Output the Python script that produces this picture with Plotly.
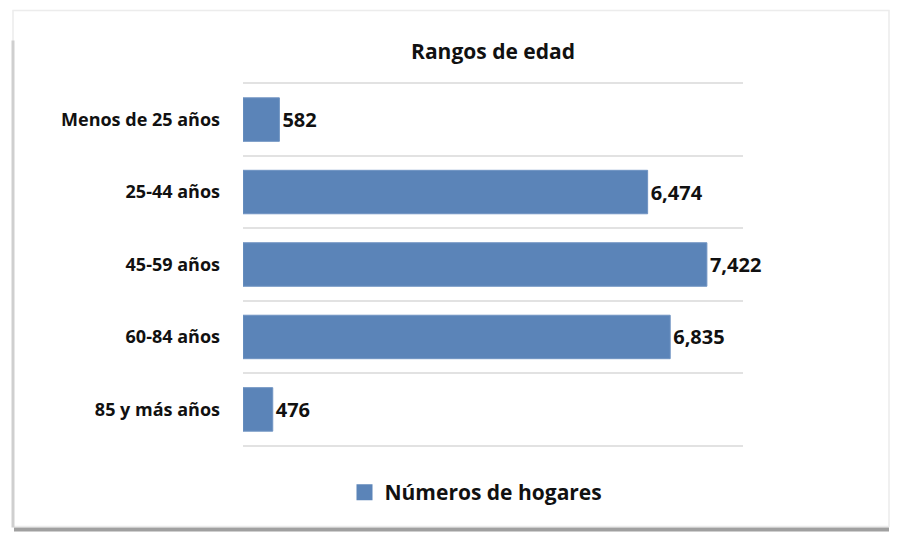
import plotly.graph_objects as go

categorias = ["Menos de 25 años", "25-44 años", "45-59 años", "60-84 años", "85 y más años"]
hogares = [582, 6474, 7422, 6835, 476]
serie = "Números de hogares"
titulo = "Rangos de edad"

posiciones = list(range(len(categorias)))

FUENTE = "Open Sans"
AZUL = "#5b84b8"

fig = go.Figure()
fig.add_trace(go.Bar(
    x=hogares,
    y=posiciones,
    orientation="h",
    name=serie,
    marker=dict(color=AZUL, line=dict(color="#6f93c2", width=1)),
    width=0.6,
    text=hogares,
    texttemplate="%{x:,}",
    textposition="outside",
    textfont=dict(size=20, color="#111111", family=FUENTE, weight="bold"),
    cliponaxis=False,
    showlegend=False,
))
# legend entry only, with a bigger square like the original
fig.add_trace(go.Scatter(
    x=[None], y=[None], mode="markers", name=serie,
    marker=dict(symbol="square", size=18, color=AZUL),
))

# the page is drawn with an 8px offset, so work in shifted pixel coords
W, H = 900, 541
OFF = 8
PAD = 0.56  # range pad beyond the category centres, keeps edge gridlines visible
GRID_TOP, GRID_BOT = 83, 446  # where the outer gridlines sit in the picture
unit = (GRID_BOT - GRID_TOP) / len(categorias)
extra = (PAD - 0.5) * unit
L, R = 243 - OFF, 900 - (743 - OFF)
T = GRID_TOP - OFF - extra
B = H - (GRID_BOT - OFF + extra)
pw, ph = W - L - R, H - T - B


def px_x(p):
    return (p - OFF - L) / pw


def px_y(p):
    return (H - B - (p - OFF)) / ph


# card border with a soft shadow at the bottom
fig.add_shape(type="rect", xref="paper", yref="paper",
              x0=px_x(13), x1=px_x(889), y0=px_y(527), y1=px_y(10),
              line=dict(color="#ececec", width=1.5), layer="below")
fig.add_shape(type="line", xref="paper", yref="paper",
              x0=px_x(14), x1=px_x(889), y0=px_y(530), y1=px_y(530),
              line=dict(color="#a0a0a0", width=4))
fig.add_shape(type="line", xref="paper", yref="paper",
              x0=px_x(13), x1=px_x(13), y0=px_y(528), y1=px_y(40),
              line=dict(color="#cfcfcf", width=3))

fig.update_layout(
    width=W, height=H,
    margin=dict(l=L, r=R, t=T, b=B),
    paper_bgcolor="white",
    plot_bgcolor="white",
    font=dict(family=FUENTE, color="#111111"),
    title=dict(text=titulo, x=0.5, xref="paper", xanchor="center",
               y=1 - (52 - OFF) / H, yref="container", yanchor="middle",
               font=dict(size=21, family=FUENTE, weight="bold", color="#111111")),
    xaxis=dict(range=[0, 8000], showgrid=False, showticklabels=False,
               zeroline=False, showline=False, fixedrange=True),
    yaxis=dict(range=[len(categorias) - 1 + PAD, -PAD], tickvals=posiciones, ticktext=categorias,
               showgrid=False, zeroline=False, showline=False, ticks="",
               ticklabelstandoff=22,
               tickfont=dict(size=18, family=FUENTE, weight="bold", color="#111111"),
               minor=dict(tickvals=[p - 0.5 for p in posiciones] + [len(categorias) - 0.5],
                          showgrid=True, gridcolor="#e2e2e2", gridwidth=1.5, ticks="")),
    legend=dict(orientation="h", x=px_x(476), xanchor="center",
                y=px_y(493), yanchor="middle",
                font=dict(size=21, family=FUENTE, weight="bold", color="#111111")),
    bargap=0.4,
)

fig.write_html("out.html")
